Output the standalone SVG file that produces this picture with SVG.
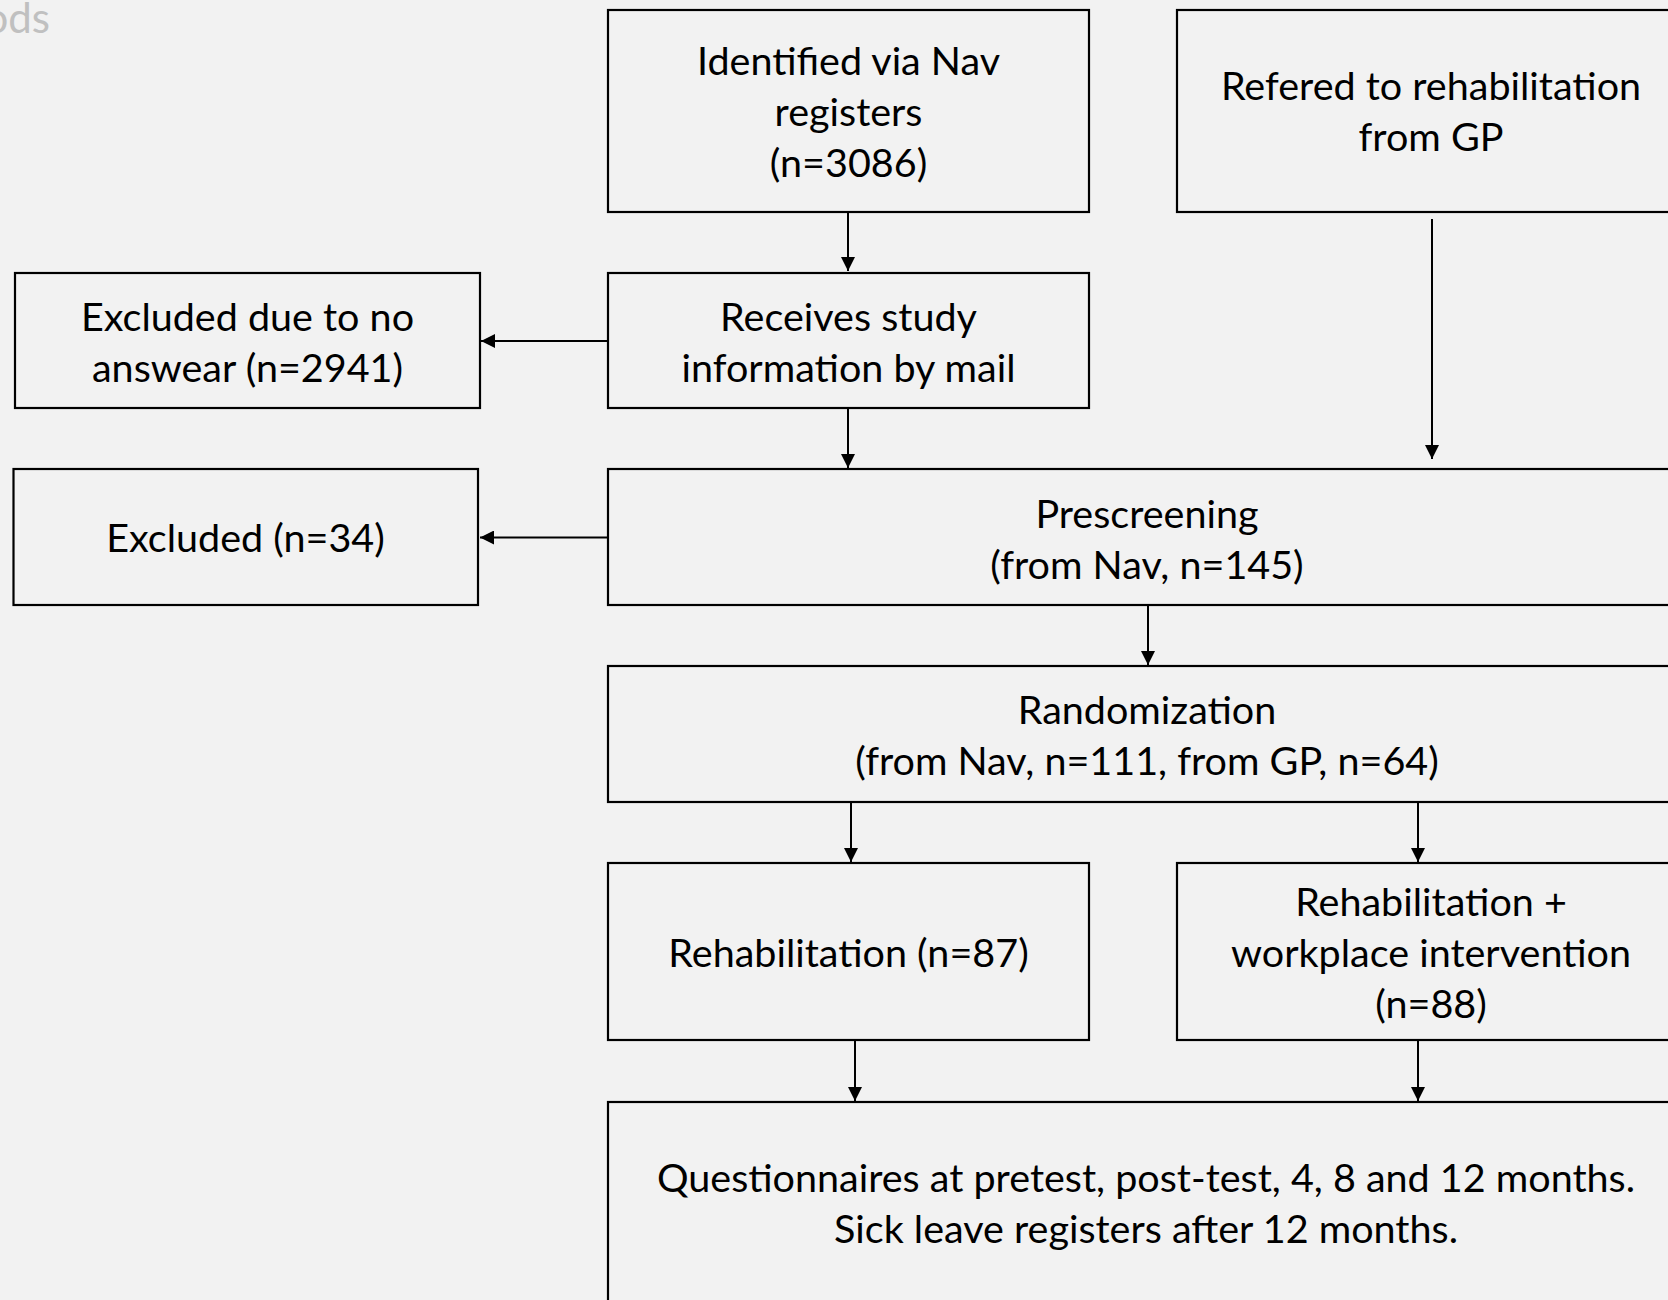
<svg xmlns="http://www.w3.org/2000/svg" width="1668" height="1300" viewBox="0 0 1668 1300">
<defs>
<style>
.bg{fill:#f2f2f2}
.box{fill:#f2f2f2;stroke:#000;stroke-width:2.2}
.t{font-family:Lato,"Liberation Sans",sans-serif;font-size:39.5px;fill:#000;text-anchor:middle}
.edge{stroke:#000;stroke-width:2;fill:none;marker-end:url(#ah)}
.hdr{font-family:Lato,"Liberation Sans",sans-serif;font-size:42px;fill:#c0c0c0;text-anchor:end}
</style>
<marker id="ah" markerUnits="userSpaceOnUse" markerWidth="14" markerHeight="14" viewBox="0 0 14 14" refX="14" refY="7" orient="auto">
<path d="M0,0 L14,7 L0,14 z" fill="#000"/>
</marker>
</defs>
<rect class="bg" x="0" y="0" width="1668" height="1300"/>
<text class="hdr" x="50" y="33">ods</text>

<g id="connectors">
<line class="edge" x1="848" y1="212" x2="848" y2="271"/>
<line class="edge" x1="607" y1="341" x2="481" y2="341"/>
<line class="edge" x1="848" y1="408" x2="848" y2="468"/>
<line class="edge" x1="1432" y1="219" x2="1432" y2="459"/>
<line class="edge" x1="607" y1="537.5" x2="480" y2="537.5"/>
<line class="edge" x1="1148" y1="605" x2="1148" y2="665"/>
<line class="edge" x1="851" y1="802" x2="851" y2="862"/>
<line class="edge" x1="1418" y1="802" x2="1418" y2="862"/>
<line class="edge" x1="855" y1="1040" x2="855" y2="1101"/>
<line class="edge" x1="1418" y1="1040" x2="1418" y2="1101"/>
</g>

<g id="n_identified">
<rect class="box" x="608" y="10" width="481" height="202"/>
<text class="t" x="848.5" y="75">Identified via Nav</text>
<text class="t" x="848.5" y="126">registers</text>
<text class="t" x="848.5" y="177">(n=3086)</text>
</g>

<g id="n_gp">
<rect class="box" x="1177" y="10" width="510" height="202"/>
<text class="t" x="1431" y="100">Refered to rehabilitation</text>
<text class="t" x="1431" y="151">from GP</text>
</g>

<g id="n_receives">
<rect class="box" x="608" y="273" width="481" height="135"/>
<text class="t" x="848.5" y="331">Receives study</text>
<text class="t" x="848.5" y="382">information by mail</text>
</g>

<g id="n_noanswer">
<rect class="box" x="15" y="273" width="465" height="135"/>
<text class="t" x="247.5" y="331">Excluded due to no</text>
<text class="t" x="247.5" y="382">answear (n=2941)</text>
</g>

<g id="n_excluded34">
<rect class="box" x="13.5" y="469" width="464.5" height="136"/>
<text class="t" x="245.5" y="552">Excluded (n=34)</text>
</g>

<g id="n_prescreening">
<rect class="box" x="608" y="469" width="1079" height="136"/>
<text class="t" x="1147" y="528">Prescreening</text>
<text class="t" x="1147" y="579">(from Nav, n=145)</text>
</g>

<g id="n_randomization">
<rect class="box" x="608" y="666" width="1079" height="136"/>
<text class="t" x="1147" y="724">Randomization</text>
<text class="t" x="1147" y="775">(from Nav, n=111, from GP, n=64)</text>
</g>

<g id="n_rehab">
<rect class="box" x="608" y="863" width="481" height="177"/>
<text class="t" x="848.5" y="967">Rehabilitation (n=87)</text>
</g>

<g id="n_rehab_wp">
<rect class="box" x="1177" y="863" width="510" height="177"/>
<text class="t" x="1431" y="916">Rehabilitation +</text>
<text class="t" x="1431" y="967">workplace intervention</text>
<text class="t" x="1431" y="1018">(n=88)</text>
</g>

<g id="n_questionnaires">
<rect class="box" x="608" y="1102" width="1079" height="230"/>
<text class="t" x="1146" y="1192">Questionnaires at pretest, post-test, 4, 8 and 12 months.</text>
<text class="t" x="1146" y="1243">Sick leave registers after 12 months.</text>
</g>
</svg>
